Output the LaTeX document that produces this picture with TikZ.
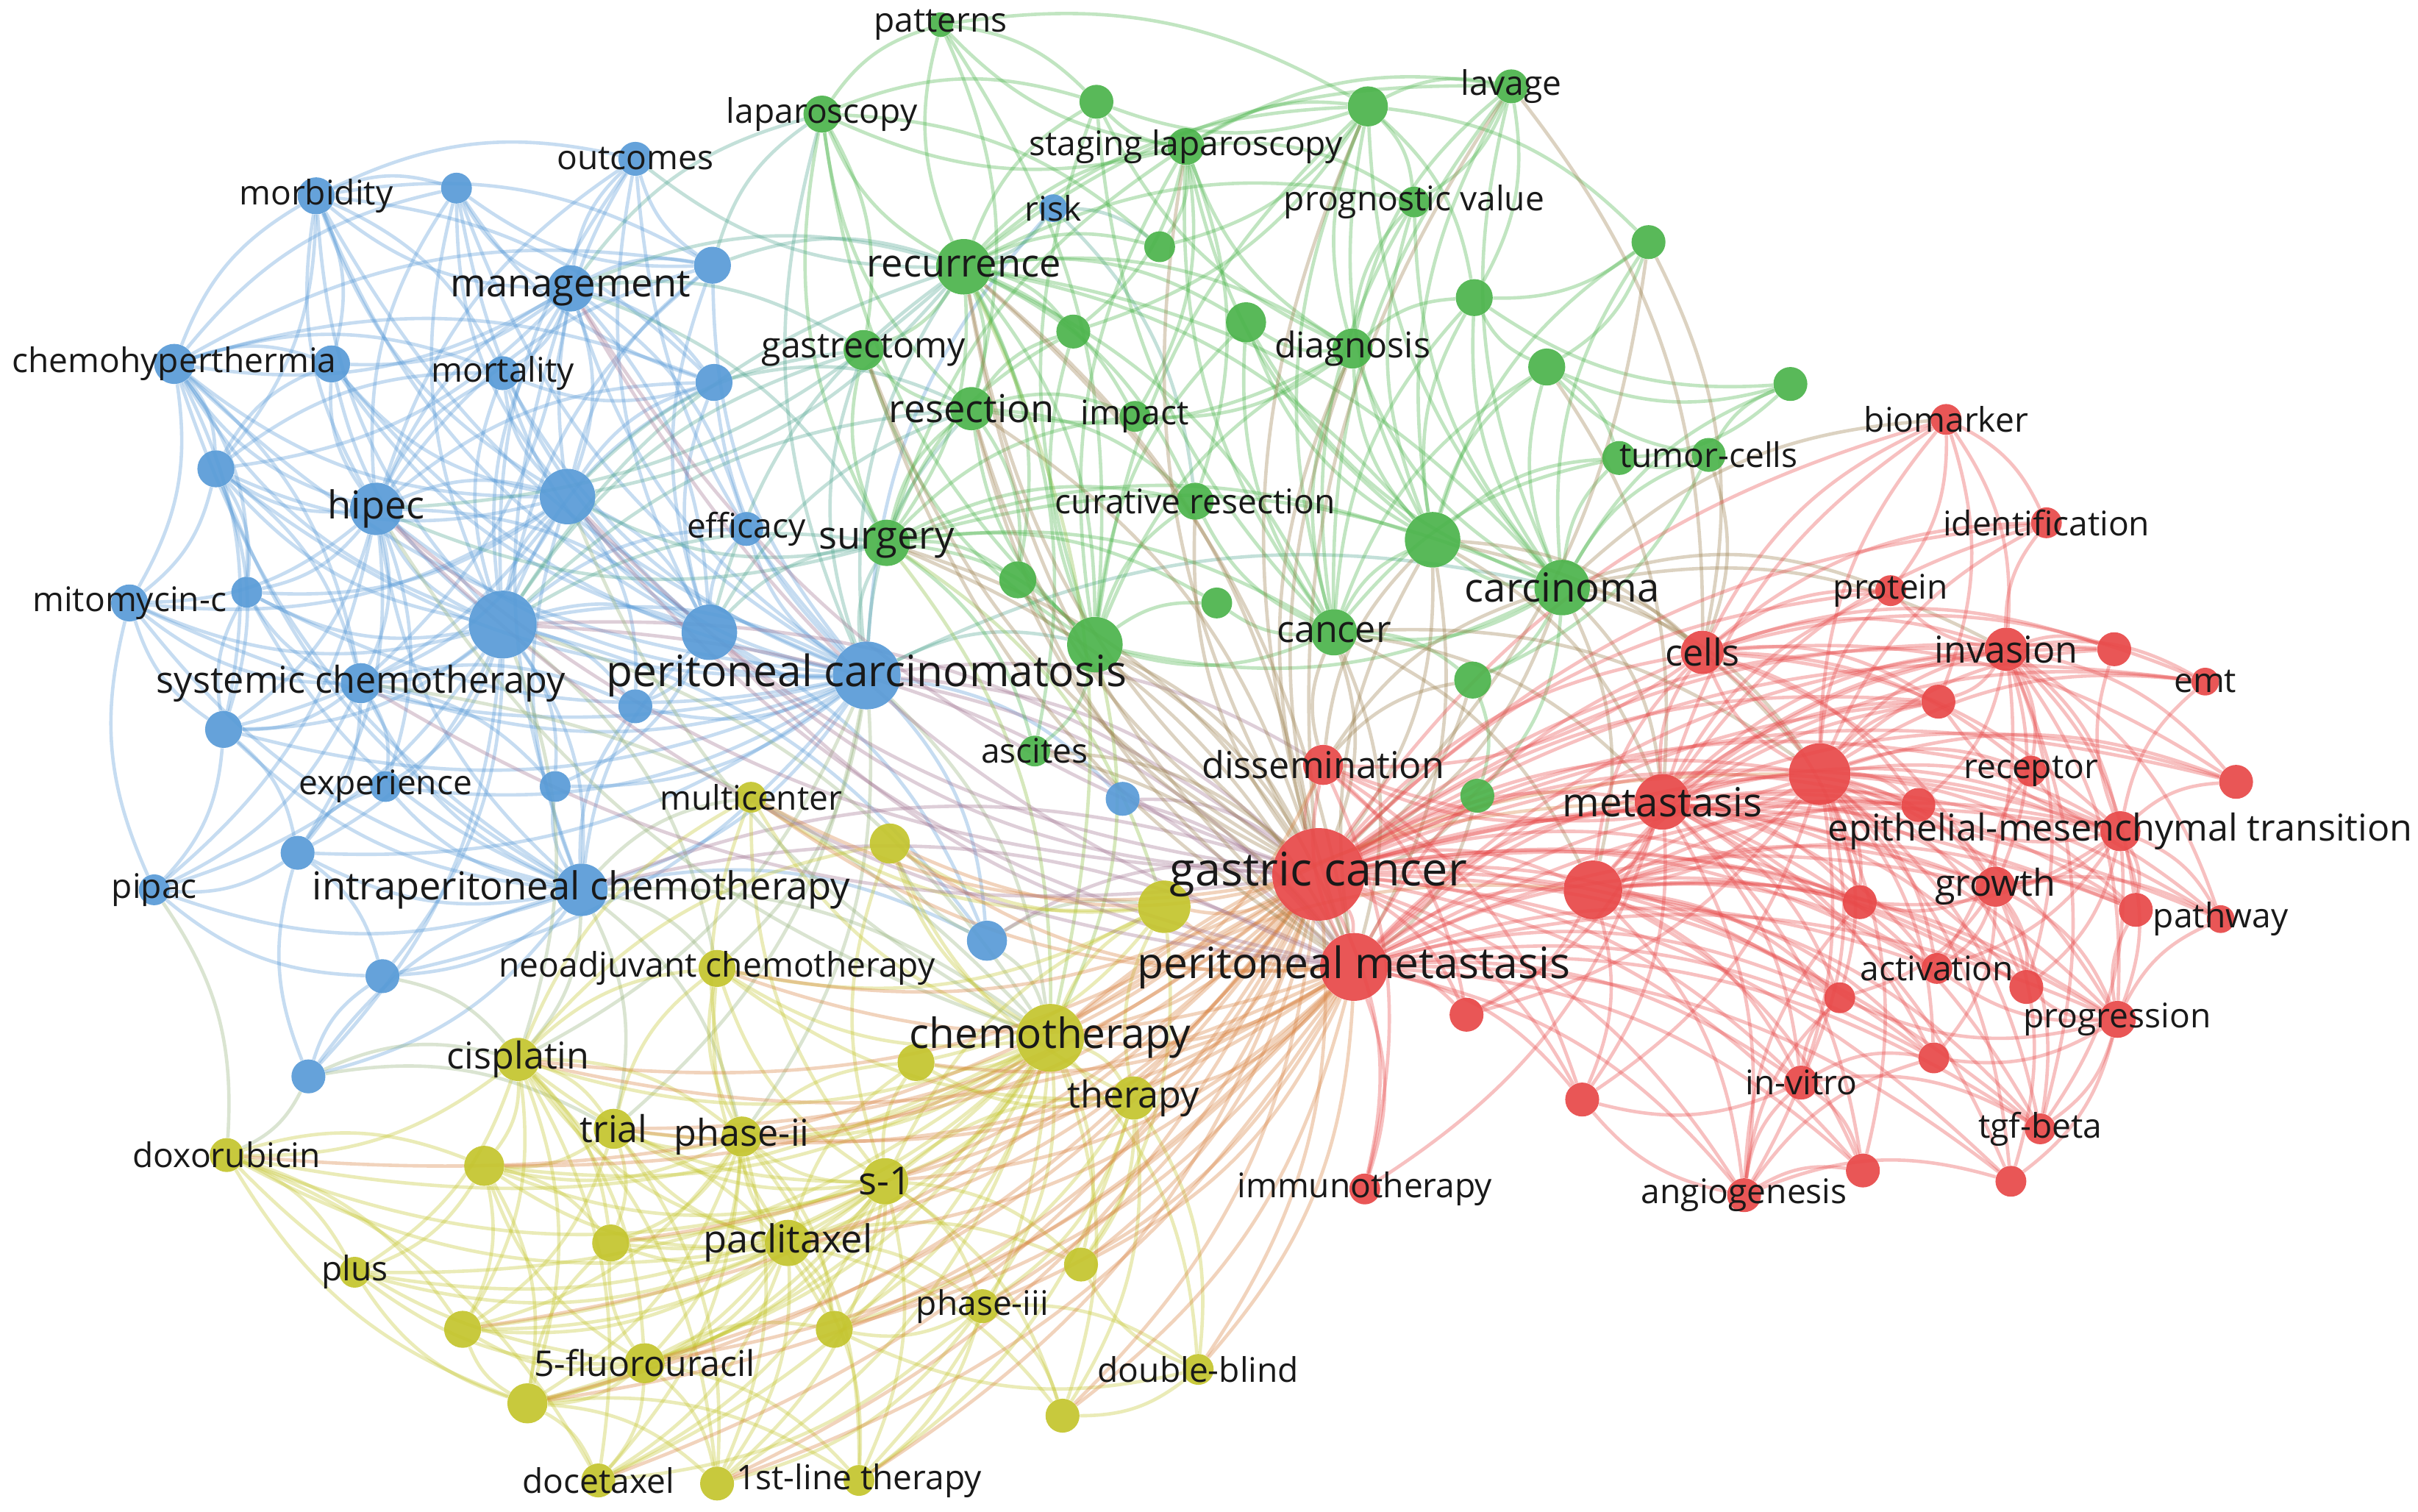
\documentclass[tikz,border=0pt]{standalone}
\usepackage{fontspec}
\setmainfont{Open Sans}
\pgfdeclarelayer{bg}\pgfdeclarelayer{fg}\pgfsetlayers{bg,main,fg}
\definecolor{cB}{RGB}{88,155,215}
\definecolor{cG}{RGB}{75,180,75}
\definecolor{cY}{RGB}{196,197,45}
\definecolor{cR}{RGB}{232,72,72}
\colorlet{cRB}{cR!50!cB}
\colorlet{cRY}{cR!55!cY}
\colorlet{cRG}{cR!50!cG}
\colorlet{cGB}{cG!50!cB}
\colorlet{cYB}{cY!55!cB}
\colorlet{cGY}{cG!50!cY}
\tikzset{
 kwnode/.style={circle,inner sep=0pt,draw=none,fill opacity=.92},
 kwlabel/.style={inner sep=0pt,text=black!90},
 eb/.style={line width=2.2pt,draw opacity=.34,bend left=19},
}
\newcommand\kw[7]{\node[kwnode,fill=#5,minimum size={2*#4pt}] (#1) at (#2,#3) {};
\begin{pgfonlayer}{fg}\node[kwlabel,font=\fontsize{#6}{#6}\selectfont] (#1-l) at (#2,#3) {#7};\end{pgfonlayer}}
\newcommand\kd[5]{\node[kwnode,fill=#5,minimum size={2*#4pt}] (#1) at (#2,#3) {};}
\newcommand\hub[3]{\begin{pgfonlayer}{bg}\foreach \t in {#3} \draw[eb,draw=#2] (#1) to (\t);\end{pgfonlayer}}
\begin{document}
\begin{tikzpicture}[x=1pt,y=-1pt]
\useasboundingbox (0,0) rectangle (1568,980);
\begin{pgfonlayer}{bg}\fill[white] (0,0) rectangle (1568,980);\end{pgfonlayer}
% blue
\kw{bMor}{205}{127}{12}{cB}{22}{morbidity}
\kw{bOut}{412}{103}{11}{cB}{22}{outcomes}
\kd{bA}{296}{122}{10}{cB}
\kw{bMan}{370}{187}{15}{cB}{25}{management}
\kd{bB}{462}{172}{12}{cB}
\kw{bChe}{113}{236}{13}{cB}{22}{chemohyperthermia}
\kd{bC}{215}{236}{12}{cB}
\kw{bMort}{326}{242}{11}{cB}{22}{mortality}
\kd{bD}{463}{248}{12}{cB}
\kd{bE}{140}{304}{12}{cB}
\kw{bHip}{244}{330}{17}{cB}{25}{hipec}
\kd{bF}{368}{322}{18}{cB}
\kw{bEff}{484}{343}{11}{cB}{22}{efficacy}
\kw{bMit}{84}{391}{12}{cB}{22}{mitomycin-c}
\kd{bG}{160}{384}{10}{cB}
\kd{bH}{326}{405}{22}{cB}
\kd{bI}{460}{410}{18}{cB}
\kw{bPC}{562}{438}{22}{cB}{28}{peritoneal carcinomatosis}
\kw{bSys}{234}{443}{13}{cB}{24}{systemic chemotherapy}
\kd{bJ}{412}{458}{11}{cB}
\kd{bK}{145}{473}{12}{cB}
\kw{bExp}{250}{510}{10}{cB}{22}{experience}
\kd{bL}{360}{510}{10}{cB}
\kd{bM}{193}{553}{11}{cB}
\kw{bPip}{100}{577}{10}{cB}{22}{pipac}
\kw{bIP}{377}{577}{17}{cB}{25}{intraperitoneal chemotherapy}
\kd{bN}{640}{610}{13}{cB}
\kd{bO}{728}{518}{11}{cB}
\kd{bP}{248}{633}{11}{cB}
\kd{bQ}{200}{698}{11}{cB}
\kw{bRisk}{683}{135}{9}{cB}{22}{risk}
% green
\kw{gPat}{610}{16}{8}{cG}{22}{patterns}
\kw{gLap}{533}{74}{12}{cG}{22}{laparoscopy}
\kd{gA}{711}{66}{11}{cG}
\kd{gB}{887}{69}{13}{cG}
\kw{gLav}{980}{56}{11}{cG}{22}{lavage}
\kw{gSL}{769}{95}{12}{cG}{22}{staging laparoscopy}
\kw{gPV}{917}{131}{10}{cG}{22}{prognostic value}
\kd{gC}{752}{160}{10}{cG}
\kw{gRec}{625}{173}{18}{cG}{25}{recurrence}
\kd{gD}{1069}{157}{11}{cG}
\kw{gGas}{560}{227}{13}{cG}{23}{gastrectomy}
\kd{gE}{696}{215}{11}{cG}
\kd{gF}{808}{209}{13}{cG}
\kw{gDia}{877}{226}{13}{cG}{23}{diagnosis}
\kd{gG}{956}{193}{12}{cG}
\kd{gH}{1003}{238}{12}{cG}
\kd{gI}{1161}{249}{11}{cG}
\kw{gRes}{630}{265}{14}{cG}{25}{resection}
\kw{gImp}{736}{270}{10}{cG}{22}{impact}
\kd{gT}{1050}{297}{11}{cG}
\kw{gTC}{1108}{295}{11}{cG}{22}{tumor-cells}
\kw{gCR}{775}{325}{12}{cG}{22}{curative resection}
\kw{gSur}{575}{352}{15}{cG}{25}{surgery}
\kd{gJ}{660}{376}{12}{cG}
\kd{gK}{929}{350}{18}{cG}
\kw{gCar}{1013}{381}{18}{cG}{26}{carcinoma}
\kd{gL}{789}{391}{10}{cG}
\kw{gCan}{865}{410}{15}{cG}{24}{cancer}
\kd{gM}{710}{418}{18}{cG}
\kd{gN}{955}{441}{12}{cG}
\kw{gAsc}{671}{487}{10}{cG}{22}{ascites}
\kd{gO}{958}{516}{11}{cG}
% yellow
\kw{yMul}{487}{517}{10}{cY}{22}{multicenter}
\kd{yA}{577}{547}{13}{cY}
\kd{yB}{755}{588}{17}{cY}
\kw{yNeo}{465}{628}{12}{cY}{22}{neoadjuvant chemotherapy}
\kw{yChe}{681}{673}{22}{cY}{27}{chemotherapy}
\kw{yCis}{336}{687}{14}{cY}{24}{cisplatin}
\kd{yC}{594}{689}{12}{cY}
\kw{yTri}{398}{732}{13}{cY}{24}{trial}
\kw{yPh2}{481}{737}{13}{cY}{24}{phase-ii}
\kw{yThe}{735}{712}{14}{cY}{24}{therapy}
\kw{yDox}{147}{749}{11}{cY}{22}{doxorubicin}
\kd{yD}{314}{756}{13}{cY}
\kw{yS}{574}{766}{15}{cY}{25}{s-1}
\kw{yPac}{511}{806}{15}{cY}{25}{paclitaxel}
\kd{yE}{396}{806}{12}{cY}
\kw{yPlu}{230}{825}{10}{cY}{22}{plus}
\kd{yF}{701}{820}{11}{cY}
\kw{yPh3}{637}{847}{11}{cY}{22}{phase-iii}
\kd{yG}{300}{862}{12}{cY}
\kd{yH}{541}{862}{12}{cY}
\kw{yFU}{418}{884}{13}{cY}{23}{5-fluorouracil}
\kw{yDB}{777}{888}{10}{cY}{22}{double-blind}
\kd{yI}{342}{910}{13}{cY}
\kd{yJ}{689}{918}{11}{cY}
\kw{yDoc}{388}{960}{11}{cY}{22}{docetaxel}
\kd{yK}{465}{962}{11}{cY}
\kw{yFL}{557}{960}{10}{cY}{22}{1st-line therapy}
% red
\kw{rGC}{855}{567}{30}{cR}{30}{gastric cancer}
\kw{rPM}{878}{627}{22}{cR}{28}{peritoneal metastasis}
\kw{rDis}{858}{496}{13}{cR}{24}{dissemination}
\kw{rMet}{1078}{520}{18}{cR}{26}{metastasis}
\kd{rA}{1180}{502}{20}{cR}
\kd{rB}{1033}{577}{19}{cR}
\kw{rCel}{1104}{423}{14}{cR}{24}{cells}
\kw{rBio}{1262}{272}{10}{cR}{22}{biomarker}
\kw{rId}{1327}{339}{10}{cR}{22}{identification}
\kw{rPro}{1226}{383}{10}{cR}{22}{protein}
\kw{rInv}{1301}{421}{14}{cR}{24}{invasion}
\kd{rC}{1371}{421}{11}{cR}
\kw{rEmt}{1430}{442}{9}{cR}{22}{emt}
\kd{rD}{1257}{455}{11}{cR}
\kw{rRec}{1317}{500}{10}{cR}{22}{receptor}
\kd{rE}{1244}{522}{11}{cR}
\kd{rF}{1450}{507}{11}{cR}
\kw{rEMT}{1375}{539}{13}{cR}{24}{epithelial-mesenchymal transition}
\kd{rG}{1206}{585}{11}{cR}
\kw{rGro}{1294}{575}{13}{cR}{24}{growth}
\kd{rH}{1385}{590}{11}{cR}
\kw{rPath}{1440}{596}{9}{cR}{22}{pathway}
\kw{rAct}{1256}{628}{10}{cR}{22}{activation}
\kd{rI}{1193}{647}{10}{cR}
\kd{rJ}{1314}{640}{11}{cR}
\kw{rProg}{1373}{661}{12}{cR}{22}{progression}
\kd{rK}{951}{658}{11}{cR}
\kd{rL}{1254}{686}{10}{cR}
\kw{rVit}{1168}{702}{11}{cR}{22}{in-vitro}
\kd{rM}{1026}{713}{11}{cR}
\kw{rTgf}{1323}{732}{10}{cR}{22}{tgf-beta}
\kw{rImm}{885}{771}{10}{cR}{22}{immunotherapy}
\kw{rAng}{1131}{775}{11}{cR}{22}{angiogenesis}
\kd{rN}{1208}{759}{11}{cR}
\kd{rO}{1304}{766}{10}{cR}
% edges blue
\hub{bH}{cB}{bMor,bOut,bA,bMan,bB,bChe,bC,bMort,bD,bE,bHip,bF,bEff,bMit,bG,bI,bPC,bSys,bJ,bK,bExp,bL,bM,bPip,bIP,bN,bP,bQ}
\hub{bPC}{cB}{bMor,bOut,bA,bMan,bB,bChe,bC,bMort,bD,bE,bHip,bF,bEff,bMit,bG,bI,bSys,bJ,bK,bExp,bL,bM,bIP,bN,bO,bP,bRisk}
\hub{bIP}{cB}{bHip,bF,bMit,bSys,bExp,bPip,bM,bP,bQ,bN,bChe,bMan,bE,bK,bI,bJ,bL,bG}
\hub{bHip}{cB}{bMor,bA,bMan,bChe,bC,bMort,bE,bF,bMit,bG,bI,bSys,bK,bExp,bPip,bD,bB,bOut,bM}
\hub{bMan}{cB}{bMor,bOut,bA,bB,bChe,bC,bMort,bD,bE,bF,bI,bSys,bEff}
\hub{bF}{cB}{bMor,bOut,bA,bChe,bC,bMort,bD,bE,bMit,bG,bI,bSys,bK,bB,bJ}
\hub{bI}{cB}{bOut,bA,bB,bC,bMort,bD,bEff,bJ,bL,bN,bMor}
\hub{bChe}{cB}{bMor,bA,bC,bE,bMit,bG,bK,bSys,bMort,bD,bB}
\hub{bMor}{cB}{bA,bC,bE,bMort,bOut,bB,bD}
\hub{bE}{cB}{bMit,bG,bSys,bK,bC,bMort}
\hub{bSys}{cB}{bMit,bG,bK,bExp,bM,bPip,bL,bJ}
\hub{bK}{cB}{bMit,bPip,bM,bG}
\hub{bM}{cB}{bPip,bExp,bP}
\hub{bQ}{cB}{bP,bIP,bM}
\hub{bP}{cB}{bPip}
\hub{bB}{cB}{bOut,bA}
\hub{bD}{cB}{bMort,bA}
\hub{bPip}{cB}{bMit}
% blue-other
\hub{bH}{cGB}{gRec,gSur,gRes,gGas}
\hub{bPC}{cGB}{gRec,gSur,gGas,gRes,gCar,gM,gLap}
\hub{bMan}{cGB}{gRec,gLap,gGas,gSur}
\hub{bI}{cGB}{gSur,gRec,gRes}
\hub{bF}{cGB}{gGas}
\hub{bB}{cGB}{gRec,gLap}
\hub{bD}{cGB}{gRes}
\hub{bRisk}{cGB}{gRec,gCR,gC}
\hub{bH}{cYB}{yChe,yCis,yNeo}
\hub{bPC}{cYB}{yChe,yNeo,yCis,yTri,yPh2}
\hub{bIP}{cYB}{yChe,yNeo,yCis,yMul,yTri,yPh2}
\hub{bSys}{cYB}{yChe}
\hub{bQ}{cYB}{yDox,yCis,yTri}
\hub{bP}{cYB}{yCis}
\hub{bN}{cYB}{yChe,yA,yB}
\hub{bPip}{cYB}{yDox}
\hub{bH}{cRB}{rGC,rPM}
\hub{bPC}{cRB}{rGC,rPM,rDis}
\hub{bIP}{cRB}{rGC,rPM}
\hub{bN}{cRB}{rGC}
\hub{bO}{cRB}{rGC,rPM}
% edges green
\hub{gRec}{cG}{gPat,gLap,gA,gB,gSL,gC,gGas,gE,gF,gDia,gRes,gImp,gCR,gSur,gJ,gM,gCan,gK,gCar,gAsc,gLav,gPV}
\hub{gSur}{cG}{gLap,gGas,gRes,gImp,gCR,gJ,gM,gCan,gK,gCar,gSL,gE,gAsc,gL}
\hub{gCar}{cG}{gB,gLav,gPV,gD,gG,gH,gI,gTC,gT,gK,gCan,gN,gO,gDia,gF,gM}
\hub{gCan}{cG}{gA,gB,gSL,gDia,gF,gG,gH,gK,gM,gN,gL,gCR,gT,gLav,gPV}
\hub{gM}{cG}{gRes,gGas,gCR,gDia,gSL,gB,gE,gF,gJ,gL,gAsc,gLap,gA}
\hub{gK}{cG}{gB,gLav,gPV,gDia,gG,gH,gD,gT,gF,gSL}
\hub{gDia}{cG}{gSL,gB,gLav,gPV,gA,gG,gF,gRes,gImp}
\hub{gSL}{cG}{gLap,gA,gB,gPat,gC,gLav,gPV,gE,gImp,gCR}
\hub{gB}{cG}{gLav,gPV,gA,gD,gG,gC,gE}
\hub{gRes}{cG}{gGas,gLap,gCR,gImp,gE,gJ}
\hub{gLap}{cG}{gPat,gGas,gA,gC}
\hub{gPat}{cG}{gA,gRes,gM,gB}
\hub{gTC}{cG}{gT,gI,gH,gN}
\hub{gI}{cG}{gT,gH,gG}
\hub{gD}{cG}{gH,gG}
\hub{gH}{cG}{gT,gG}
\hub{gN}{cG}{gO}
\hub{gLav}{cG}{gPV,gG}
% green-other
\hub{gRec}{cRG}{rGC,rPM}
\hub{gSur}{cRG}{rPM,rGC}
\hub{gCar}{cRG}{rCel,rMet,rA,rGC,rInv,rPro,rB,rBio}
\hub{gCan}{cRG}{rGC,rPM,rMet,rA,rB}
\hub{gM}{cRG}{rGC,rPM}
\hub{gK}{cRG}{rGC,rPM,rMet,rCel,rA}
\hub{gRes}{cRG}{rGC}
\hub{gTC}{cRG}{rCel}
\hub{gD}{cRG}{rGC,rCel}
\hub{gH}{cRG}{rMet}
\hub{gN}{cRG}{rGC}
\hub{gO}{cRG}{rGC,rPM}
\hub{gAsc}{cRG}{rGC,rPM}
\hub{gLav}{cRG}{rCel}
\hub{gRec}{cGB}{bF,bHip,bOut}
\hub{gSur}{cGB}{bHip,bF}
\hub{gRec}{cGY}{yChe}
\hub{gSur}{cGY}{yChe,yB}
\hub{gM}{cGY}{yChe}
% edges yellow
\hub{yChe}{cY}{yMul,yA,yB,yNeo,yCis,yC,yTri,yPh2,yThe,yDox,yD,yS,yPac,yE,yF,yPh3,yG,yH,yFU,yDB,yI,yJ,yDoc,yK,yFL,yPlu}
\hub{yS}{cY}{yA,yNeo,yCis,yC,yTri,yPh2,yThe,yD,yPac,yE,yF,yPh3,yG,yH,yFU,yI,yJ,yDoc,yK,yFL,yDox,yPlu,yMul,yB}
\hub{yPac}{cY}{yCis,yTri,yPh2,yD,yE,yPlu,yG,yH,yFU,yI,yDoc,yK,yFL,yPh3,yC,yNeo,yF,yJ,yDox}
\hub{yCis}{cY}{yDox,yD,yTri,yPh2,yE,yG,yI,yFU,yDoc,yNeo,yMul,yPlu,yK,yA}
\hub{yPh2}{cY}{yTri,yD,yE,yH,yFU,yI,yDoc,yK,yMul,yNeo,yC,yFL,yG}
\hub{yFU}{cY}{yD,yG,yI,yDoc,yK,yPlu,yFL,yH,yE,yDox}
\hub{yI}{cY}{yDoc,yK,yG,yDox,yPlu,yFL,yE}
\hub{yThe}{cY}{yB,yF,yDB,yJ,yH,yPh3,yC,yA,yNeo,yFL}
\hub{yB}{cY}{yA,yMul,yNeo,yC,yF}
\hub{yTri}{cY}{yD,yE,yG,yH,yK,yNeo}
\hub{yPh3}{cY}{yDB,yJ,yH,yFL,yK,yDoc}
\hub{yDox}{cY}{yD,yPlu,yG,yDoc}
\hub{yDB}{cY}{yF,yJ,yH}
\hub{yD}{cY}{yG,yE,yI,yPlu}
\hub{yChe}{cYB}{bHip,bF}
\hub{yChe}{cRY}{rMet,rA,rB}
% edges red
\hub{rGC}{cR}{rPM,rDis,rMet,rA,rB,rCel,rBio,rId,rPro,rInv,rC,rEmt,rD,rRec,rE,rF,rEMT,rG,rGro,rH,rPath,rAct,rI,rJ,rProg,rK,rL,rVit,rM,rTgf,rImm,rAng,rN,rO}
\hub{rGC}{cRY}{yChe,yB,yThe,yS,yPac,yCis,yNeo,yA,yPh2,yDB,yFL,yMul,yTri,yD,yE,yI,yFU,yDoc,yK,yH,yPh3,yF,yJ,yDox,yG}
\hub{rGC}{cRB}{bHip,bMan,bI,bF,bSys}
\hub{rGC}{cRG}{gRec,gRes,gGas,gDia,gSL,gLav,gB,gCR,gJ}
\hub{rPM}{cR}{rDis,rMet,rA,rB,rCel,rInv,rD,rE,rG,rGro,rAct,rI,rProg,rK,rVit,rM,rImm,rAng,rN,rEMT,rTgf,rO,rL}
\hub{rPM}{cRY}{yChe,yThe,yS,yPac,yB,yC,yF,yDB,yFU,yCis,yPh2,yTri,yNeo,yMul,yA,yH,yPh3,yJ,yK,yI}
\hub{rPM}{cRB}{bHip,bI,bF,bMan}
\hub{rPM}{cRG}{gRec,gRes,gGas,gDia,gK}
\hub{rA}{cR}{rMet,rB,rCel,rPro,rInv,rC,rEmt,rD,rRec,rE,rF,rEMT,rG,rGro,rH,rPath,rAct,rI,rJ,rProg,rL,rVit,rTgf,rAng,rN,rO,rBio,rId,rDis,rK,rM}
\hub{rMet}{cR}{rB,rCel,rPro,rInv,rC,rD,rE,rEMT,rG,rGro,rH,rAct,rI,rJ,rProg,rL,rVit,rM,rTgf,rAng,rN,rO,rBio,rDis,rId,rF,rPath,rEmt,rK,rImm}
\hub{rB}{cR}{rCel,rInv,rD,rE,rG,rGro,rI,rJ,rProg,rVit,rAng,rK,rM,rDis,rEMT,rH,rL,rN,rTgf,rAct}
\hub{rCel}{cR}{rPro,rInv,rC,rD,rE,rEMT,rGro,rBio,rId,rRec,rEmt,rF,rG,rDis}
\hub{rInv}{cR}{rPro,rC,rEmt,rD,rRec,rE,rF,rEMT,rGro,rH,rPath,rJ,rProg,rId,rAct,rTgf}
\hub{rEMT}{cR}{rEmt,rC,rF,rH,rPath,rGro,rJ,rProg,rTgf,rRec,rD,rE,rG,rAct}
\hub{rGro}{cR}{rH,rPath,rJ,rProg,rAct,rL,rTgf,rO,rI,rG,rRec}
\hub{rProg}{cR}{rJ,rTgf,rO,rL,rH,rPath,rAct,rI}
\hub{rAng}{cR}{rVit,rN,rM,rO,rL,rI,rG}
\hub{rBio}{cR}{rPro,rInv,rId,rD}
\hub{rDis}{cR}{rK,rM,rImm}
\hub{rDis}{cRG}{gCar,gCan,gK,gN}
\hub{rDis}{cRY}{yChe}
\hub{rVit}{cR}{rL,rN,rI,rM,rTgf}
\end{tikzpicture}
\end{document}
